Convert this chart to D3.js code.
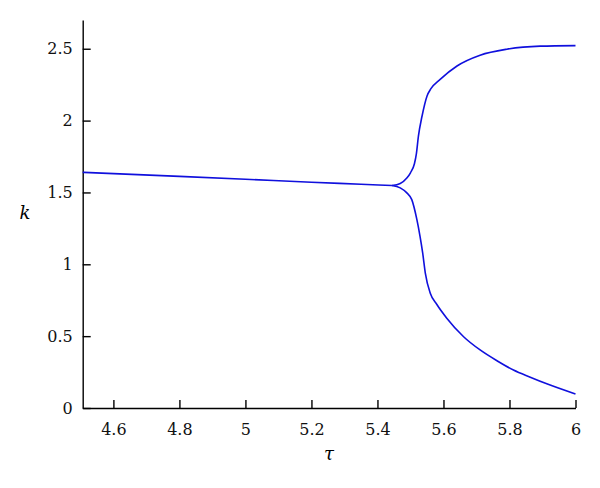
<!DOCTYPE html>
<html><head><meta charset="utf-8">
<script src="https://cdn.jsdelivr.net/npm/d3@7"></script>
<style>body{margin:0;background:#fff}svg{display:block}
.serif{font-family:"DejaVu Serif","Liberation Serif",serif}</style>
</head><body>
<script>
const xTicks = [4.6, 4.8, 5, 5.2, 5.4, 5.6, 5.8, 6];
const yTicks = [0, 0.5, 1, 1.5, 2, 2.5];
const xLabel = "τ";
const yLabel = "k";

const mainTau = [4.507, 4.8, 5.0, 5.2, 5.35, 5.444];
const mainK   = [1.640, 1.612, 1.592, 1.571, 1.557, 1.548];

const upperTau = [5.444, 5.469, 5.489, 5.50, 5.512, 5.518, 5.524, 5.535, 5.550, 5.562, 5.590, 5.641, 5.711, 5.792, 5.893, 6.0];
const upperK   = [1.548, 1.562, 1.600, 1.637, 1.70, 1.77, 1.89, 2.03, 2.17, 2.222, 2.287, 2.380, 2.455, 2.497, 2.518, 2.522];

const lowerTau = [5.444, 5.469, 5.489, 5.504, 5.519, 5.529, 5.537, 5.545, 5.560, 5.580, 5.610, 5.661, 5.711, 5.762, 5.812, 5.863, 5.913, 6.0];
const lowerK   = [1.548, 1.532, 1.497, 1.450, 1.316, 1.195, 1.079, 0.939, 0.798, 0.720, 0.625, 0.496, 0.404, 0.329, 0.264, 0.214, 0.168, 0.097];

const W = 600, H = 488;
const svg = d3.select("body").append("svg").attr("width", W).attr("height", H);

const x = d3.scaleLinear().domain([4.507, 6]).range([82.7, 575.5]);
const y = d3.scaleLinear().domain([0, 2.7]).range([408, 20]);

// axes
const xAxis = svg.append("g").attr("transform", `translate(0,${y(0)})`)
  .call(d3.axisBottom(x).tickValues(xTicks).tickSizeInner(-8).tickSizeOuter(0).tickPadding(16)
    .tickFormat(d3.format("")));
const yAxis = svg.append("g").attr("transform", `translate(${x(4.507)},0)`)
  .call(d3.axisLeft(y).tickValues(yTicks).tickSizeInner(-8).tickSizeOuter(0).tickPadding(10)
    .tickFormat(d3.format("")));

[xAxis, yAxis].forEach(g => {
  g.attr("font-family", "DejaVu Serif").attr("font-size", 16);
  g.select(".domain").attr("stroke", "#000").attr("stroke-width", 1.4);
  g.selectAll(".tick line").attr("stroke", "#000").attr("stroke-width", 1.4);
  g.selectAll(".tick text").attr("font-family", "DejaVu Serif").attr("font-size", 16).attr("fill", "#111");
});

// axis labels
svg.append("text").attr("font-family", "DejaVu Serif").attr("x", (x(4.507) + x(6)) / 2).attr("y", 460)
  .attr("text-anchor", "middle").attr("font-style", "italic")
  .attr("font-size", 18).text(xLabel);
svg.append("text").attr("font-family", "DejaVu Serif").attr("x", 25).attr("y", 219)
  .attr("text-anchor", "middle").attr("font-style", "italic")
  .attr("font-size", 18).text(yLabel);

const line = d3.line().x(d => x(d[0])).y(d => y(d[1])).curve(d3.curveMonotoneX);
const series = [
  d3.zip(mainTau, mainK),
  d3.zip(upperTau, upperK),
  d3.zip(lowerTau, lowerK)
];
svg.append("g").selectAll("path").data(series).join("path")
  .attr("d", line).attr("fill", "none").attr("stroke", "#1010dd").attr("stroke-width", 1.6);
</script>
</body></html>
